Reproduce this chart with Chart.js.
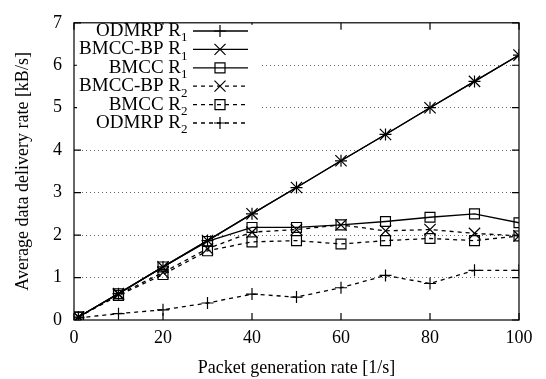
<!DOCTYPE html>
<html>
<head>
<meta charset="utf-8">
<script src="https://cdn.jsdelivr.net/npm/chart.js@4"></script>
<style>
  html, body { margin: 0; padding: 0; background: #fff; }
  #wrap { width: 546px; height: 379px; }
</style>
</head>
<body>
<div id="wrap"><canvas id="rateChart" width="546" height="379"></canvas></div>
<script>
// packet generation rate (x values)
let rates = [1, 10, 20, 30, 40, 50, 60, 70, 80, 90, 100];

// average data delivery rate per series (kB/s)
let odmrpR1 = [0.07, 0.62, 1.25, 1.87, 2.5, 3.12, 3.75, 4.37, 5.0, 5.62, 6.24];
let bmccbpR1 = [0.07, 0.62, 1.25, 1.87, 2.5, 3.12, 3.75, 4.37, 5.0, 5.62, 6.24];
let bmccR1 = [0.07, 0.62, 1.25, 1.85, 2.18, 2.18, 2.24, 2.32, 2.42, 2.5, 2.29];
let bmccbpR2 = [0.07, 0.6, 1.12, 1.68, 2.07, 2.13, 2.24, 2.1, 2.13, 2.04, 1.98];
let bmccR2 = [0.07, 0.58, 1.07, 1.63, 1.84, 1.87, 1.79, 1.87, 1.92, 1.87, 1.98];
let odmrpR2 = [0.05, 0.15, 0.24, 0.4, 0.61, 0.54, 0.76, 1.05, 0.86, 1.17, 1.17];

// legend names, subscripts and tick values
let seriesNames = ["ODMRP", "BMCC-BP", "BMCC", "BMCC-BP", "BMCC", "ODMRP"];
let seriesSubs = ["1", "1", "1", "2", "2", "2"];
let seriesValues = [odmrpR1, bmccbpR1, bmccR1, bmccbpR2, bmccR2, odmrpR2];
let seriesMarkers = ["cross", "crossRot", "rect", "crossRot", "rect", "cross"];
let markerSizes = [6, 8, 7, 8, 7, 6];
let xTicks = [0, 20, 40, 60, 80, 100];
let yTicks = [0, 1, 2, 3, 4, 5, 6, 7];

let fontFamily = "'Liberation Serif', 'DejaVu Serif', serif";

let datasets = seriesValues.map(function (vals, i) {
  let dashed = seriesSubs[i] === "2";
  return {
    label: seriesNames[i] + " R" + seriesSubs[i],
    data: vals.map(function (v, j) { return { x: rates[j], y: v }; }),
    borderColor: "#000",
    borderWidth: 1.3,
    borderDash: dashed ? [4, 4] : [],
    pointStyle: seriesMarkers[i],
    pointRadius: markerSizes[i],
    pointBorderWidth: 1.2,
    pointBorderColor: "#000",
    pointBackgroundColor: "rgba(0,0,0,0)",
    fill: false,
    tension: 0,
  };
});

// frame, inward ticks and the boxed legend
let framePlugin = {
  id: "frame",
  afterDraw: function (chart) {
    let ctx = chart.ctx;
    let a = chart.chartArea;
    let xs = chart.scales.x;
    let ys = chart.scales.y;
    ctx.save();
    ctx.strokeStyle = "#000";
    ctx.lineWidth = 1.2;
    ctx.setLineDash([]);
    ctx.strokeRect(a.left, a.top, a.right - a.left, a.bottom - a.top);
    ctx.beginPath();
    xTicks.forEach(function (t) {
      let px = xs.getPixelForValue(t);
      ctx.moveTo(px, a.bottom); ctx.lineTo(px, a.bottom - 7);
      ctx.moveTo(px, a.top); ctx.lineTo(px, a.top + 7);
    });
    yTicks.forEach(function (t) {
      let py = ys.getPixelForValue(t);
      ctx.moveTo(a.left, py); ctx.lineTo(a.left + 7, py);
      ctx.moveTo(a.right, py); ctx.lineTo(a.right - 7, py);
    });
    ctx.stroke();

    // legend
    ctx.fillStyle = "#fff";
    ctx.fillRect(a.left + 3, a.top + 2, 183, 118);
    let rowY = 31;
    seriesNames.forEach(function (name, i) {
      let y = rowY + i * 18.4;
      ctx.fillStyle = "#000";
      ctx.font = "19px " + fontFamily;
      ctx.textAlign = "right";
      ctx.textBaseline = "middle";
      ctx.fillText(name + " R", 181, y);
      ctx.font = "13px " + fontFamily;
      ctx.textAlign = "left";
      ctx.fillText(seriesSubs[i], 181, y + 7);
      ctx.lineWidth = 1.3;
      ctx.setLineDash(seriesSubs[i] === "2" ? [4, 4] : []);
      ctx.beginPath();
      ctx.moveTo(193, y); ctx.lineTo(248, y);
      ctx.stroke();
      ctx.setLineDash([]);
      ctx.lineWidth = 1.2;
      let mx = 220;
      ctx.beginPath();
      if (seriesMarkers[i] === "cross") {
        ctx.moveTo(mx - 6, y); ctx.lineTo(mx + 6, y);
        ctx.moveTo(mx, y - 6); ctx.lineTo(mx, y + 6);
      } else if (seriesMarkers[i] === "crossRot") {
        ctx.moveTo(mx - 5.5, y - 5.5); ctx.lineTo(mx + 5.5, y + 5.5);
        ctx.moveTo(mx - 5.5, y + 5.5); ctx.lineTo(mx + 5.5, y - 5.5);
      } else {
        ctx.rect(mx - 5, y - 5, 10, 10);
      }
      ctx.stroke();
    });
    ctx.restore();
  },
};

let canvas = document.querySelector("#rateChart");
let context = canvas.getContext("2d");

let rateChart = new Chart(context, {
  type: "line",
  data: { datasets: datasets },
  options: {
    responsive: false,
    animation: false,
    layout: { padding: { top: 14, right: 27, left: 0, bottom: 0 } },
    plugins: { legend: { display: false }, tooltip: { enabled: false } },
    scales: {
      x: {
        type: "linear",
        min: 0,
        max: 100,
        afterBuildTicks: function (scale) {
          scale.ticks = xTicks.map(function (v) { return { value: v }; });
        },
        afterFit: function (scale) { scale.height = 59; },
        grid: { display: false, drawTicks: false },
        border: { display: false },
        ticks: { color: "#000", padding: 7, maxRotation: 0, font: { family: fontFamily, size: 18 } },
        title: {
          display: true,
          text: "Packet generation rate [1/s]",
          color: "#000",
          font: { family: fontFamily, size: 18 },
          padding: { top: 0, bottom: 0 },
        },
      },
      y: {
        min: 0,
        max: 7,
        afterBuildTicks: function (scale) {
          scale.ticks = yTicks.map(function (v) { return { value: v }; });
        },
        afterFit: function (scale) { scale.width = 74; },
        grid: {
          drawTicks: false,
          color: function (c) {
            return c.tick && (c.tick.value === 0 || c.tick.value === 7) ? "rgba(0,0,0,0)" : "#666";
          },
          lineWidth: 1,
        },
        border: { display: false, dash: [1, 3] },
        ticks: { color: "#000", padding: 12, font: { family: fontFamily, size: 18 } },
        title: {
          display: true,
          text: "Average data delivery rate [kB/s]",
          color: "#000",
          font: { family: fontFamily, size: 18 },
          padding: { top: 12, bottom: 0 },
        },
      },
    },
  },
  plugins: [framePlugin],
});
</script>
</body>
</html>
